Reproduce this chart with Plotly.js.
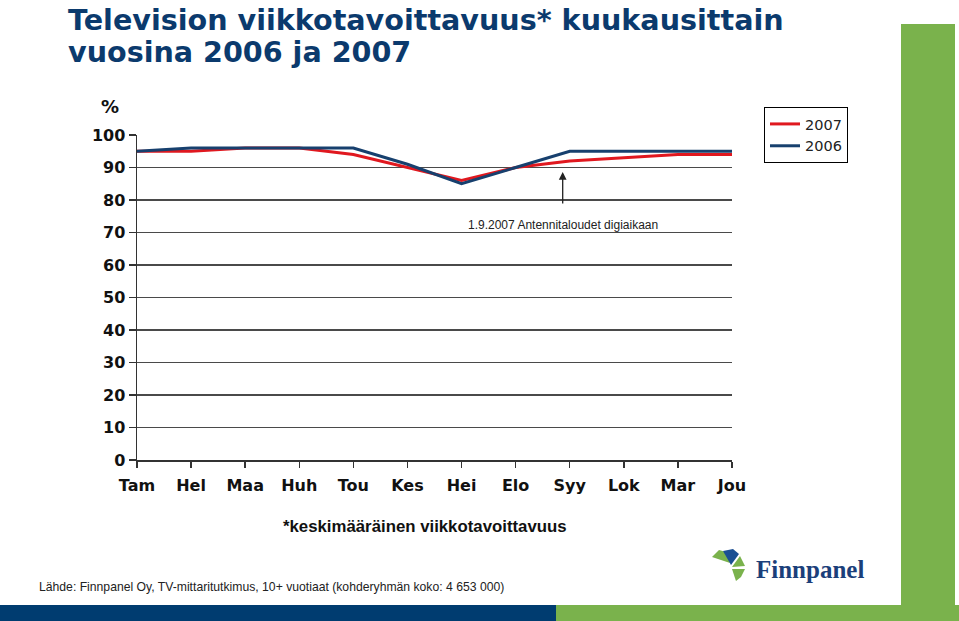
<!DOCTYPE html>
<html><head><meta charset="utf-8">
<script src="https://cdn.plot.ly/plotly-3.0.1.min.js"></script>
<style>html,body{margin:0;padding:0;background:#fff;}#chart{width:959px;height:621px;}</style>
</head><body><div id="chart"></div>
<script>
const months = ["Tam","Hel","Maa","Huh","Tou","Kes","Hei","Elo","Syy","Lok","Mar","Jou"];
const values2007 = [95, 95, 96, 96, 94, 90, 86, 90, 92, 93, 94, 94];
const values2006 = [95, 96, 96, 96, 96, 91, 85, 90, 95, 95, 95, 95];
const yTicks = [0,10,20,30,40,50,60,70,80,90,100];

const W = 959, H = 621;
const L = 137, R = 227, T = 135, B = 161;
const pw = W - L - R, ph = H - T - B;
const px = v => (v - L) / pw;
const py = v => (H - B - v) / ph;

function rect(x0, y0, x1, y1, color) {
  return {type: 'rect', xref: 'paper', yref: 'paper', x0: px(x0), x1: px(x1), y0: py(y1), y1: py(y0),
    fillcolor: color, line: {width: 0}, layer: 'below'};
}
function poly(pts, color) {
  let d = pts.map((p, i) => (i ? 'L' : 'M') + px(p[0]).toFixed(5) + ',' + py(p[1]).toFixed(5)).join(' ') + ' Z';
  return {type: 'path', xref: 'paper', yref: 'paper', path: d, fillcolor: color, line: {width: 0}};
}

const traces = [
  {x: months, y: values2007, name: '2007', type: 'scatter', mode: 'lines',
   line: {color: '#e0181f', width: 3}},
  {x: months, y: values2006, name: '2006', type: 'scatter', mode: 'lines',
   line: {color: '#17406e', width: 3}}
];

const navy = '#0b3a6d';
const green = '#7ab24c';
const dv = 'DejaVu Sans, Liberation Sans, sans-serif';
const tickFont = {size: 16, family: dv, color: '#111', weight: 'bold'};

const layout = {
  width: W, height: H,
  margin: {l: L, r: R, t: T, b: B, pad: 0},
  paper_bgcolor: '#fff', plot_bgcolor: '#fff',
  font: {family: 'Liberation Sans, Arial, sans-serif', color: '#1a1a1a'},
  showlegend: true,
  legend: {x: px(764), y: py(107), xanchor: 'left', yanchor: 'top',
    bordercolor: '#000', borderwidth: 1, bgcolor: '#fff',
    font: {size: 14.5, family: dv, color: '#222'}, tracegroupgap: 0, itemwidth: 30},
  xaxis: {type: 'category', range: [0, 11], showgrid: false, zeroline: false,
    showline: true, linecolor: '#333', linewidth: 1.5,
    ticks: 'outside', ticklen: 6, tickcolor: '#333', tickwidth: 1.5,
    ticklabelstandoff: 4,
    tickfont: tickFont, fixedrange: true},
  yaxis: {range: [0, 100], tickvals: yTicks, ticktext: yTicks.map(String),
    showgrid: true, gridcolor: '#4a4a4a', gridwidth: 1.5, zeroline: false,
    showline: true, linecolor: '#333', linewidth: 1.5,
    ticks: 'outside', ticklen: 7, tickcolor: '#333', tickwidth: 1.5,
    tickfont: tickFont, fixedrange: true},
  shapes: [
    rect(0, 605, 556, 621, '#003c70'),
    rect(556, 605, 959, 621, green),
    rect(901, 24, 955, 605, green),
    poly([[712,557],[719,550],[726,552],[730,563]], green),
    poly([[723,551],[733,549],[739,554],[731,565]], '#1b4f93'),
    poly([[740,556],[745,566],[732,567]], green),
    poly([[732,569],[745,569],[741,577],[736,581]], green)
  ],
  annotations: [
    {xref: 'paper', yref: 'paper', x: px(66), y: py(1), xanchor: 'left', yanchor: 'top',
     text: 'Television viikkotavoittavuus* kuukausittain', showarrow: false,
     font: {size: 28.6, color: navy, family: dv, weight: 'bold'}},
    {xref: 'paper', yref: 'paper', x: px(66), y: py(33), xanchor: 'left', yanchor: 'top',
     text: 'vuosina 2006 ja 2007', showarrow: false,
     font: {size: 28.6, color: navy, family: dv, weight: 'bold'}},
    {xref: 'paper', yref: 'paper', x: px(110), y: py(106), xanchor: 'center', yanchor: 'middle',
     text: '%', showarrow: false, font: {size: 18, family: dv, color: '#111', weight: 'bold'}},
    {xref: 'x', yref: 'y', x: 7.87, y: 88.6, ax: 7.87, ay: 78.5, axref: 'x', ayref: 'y',
     text: '', showarrow: true, arrowhead: 2, arrowsize: 1.2, arrowwidth: 1.3, arrowcolor: '#222'},
    {xref: 'x', yref: 'y', x: 7.87, y: 72.2, xanchor: 'center', yanchor: 'middle',
     text: '1.9.2007 Antennitaloudet digiaikaan', showarrow: false,
     font: {size: 12, color: '#222'}},
    {xref: 'paper', yref: 'paper', x: px(425), y: py(526), xanchor: 'center', yanchor: 'middle',
     text: '*keskimääräinen viikkotavoittavuus', showarrow: false,
     font: {size: 16.8, color: '#111', weight: 'bold'}},
    {xref: 'paper', yref: 'paper', x: px(37), y: py(587), xanchor: 'left', yanchor: 'middle',
     text: 'Lähde: Finnpanel Oy, TV-mittaritutkimus, 10+ vuotiaat (kohderyhmän koko: 4 653 000)', showarrow: false,
     font: {size: 12.2, color: '#222'}},
    {xref: 'paper', yref: 'paper', x: px(754), y: py(569), xanchor: 'left', yanchor: 'middle',
     text: 'Finnpanel', showarrow: false,
     font: {size: 25, color: '#1b3f7a', family: 'Liberation Serif, DejaVu Serif, serif', weight: 'bold'}}
  ]
};

Plotly.newPlot('chart', traces, layout, {displayModeBar: false, staticPlot: true});
</script>
</body></html>
